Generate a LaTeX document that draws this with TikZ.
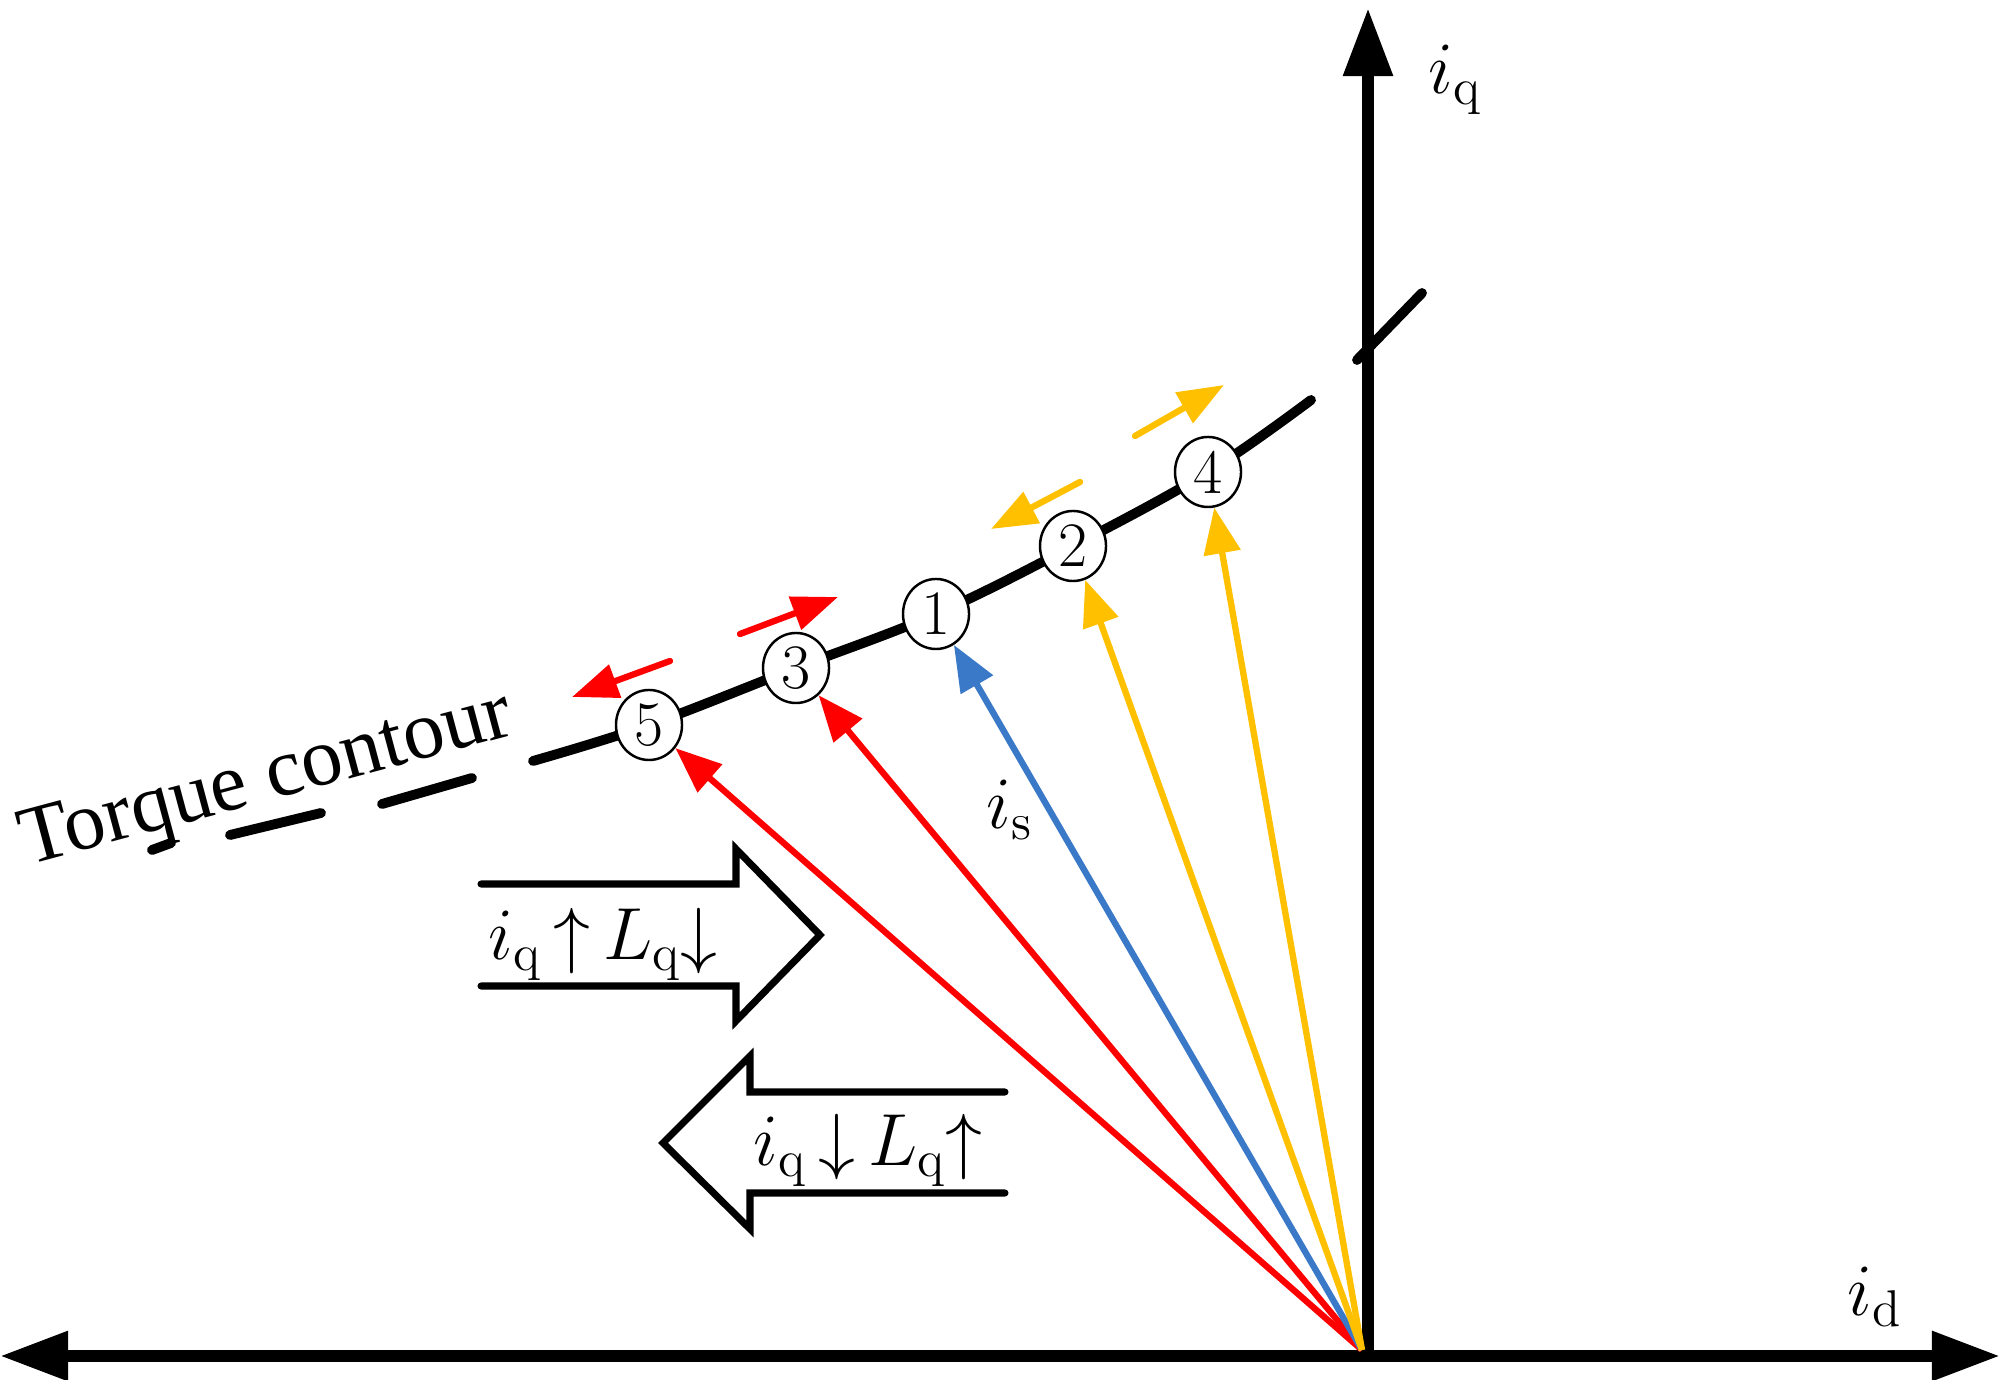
\RequirePackage{fix-cm}
\documentclass[tikz,border=0pt]{standalone}
\usepackage{fontspec}
\newfontfamily\contourfont{Liberation Serif}
\usetikzlibrary{arrows.meta,shapes.geometric}

\definecolor{vecred}{RGB}{255,0,0}
\definecolor{vecblue}{RGB}{58,120,200}
\definecolor{vecgold}{RGB}{255,192,0}

\tikzset{
  axis/.style={line width=3.4pt, -{Triangle[length=0.68cm,width=0.47cm]}},
  contour/.style={line width=2.8pt, line cap=round},
  opnode/.style={ellipse, draw, line width=0.7pt, fill=white, inner sep=0pt,
    minimum width=0.66cm, minimum height=0.70cm, font=\fontsize{18}{20}\selectfont},
  vec/.style={line width=1.8pt, -{Triangle[length=0.46cm,width=0.36cm]}},
  shiftarrow/.style={line width=1.8pt, line cap=round, -{Triangle[length=0.46cm,width=0.34cm]}},
  blockarrow/.style={line width=2pt, line cap=round, line join=miter},
  lbl/.style={inner sep=0pt, font=\fontsize{21}{25}\selectfont}
}

\begin{document}
\begin{tikzpicture}[x=0.01cm,y=-0.01cm]
\useasboundingbox (0,0) rectangle (2000,1380);

% Axes
\coordinate (O) at (1368,1356);
\draw[axis] (O) -- (2000,1356);
\draw[axis] (O) -- (0,1356);
\draw[axis] (O) -- (1368,8);
\node[lbl] (iq) at (1455,80) {$i_\mathrm{q}$};
\node[lbl] (id) at (1875,1297) {$i_\mathrm{d}$};

% Torque contour
\draw[contour] plot[smooth, tension=0.6] coordinates
  {(533,761) (649,725) (796,668) (936,614) (1073,546) (1208,472) (1311,400)};
\draw[contour] (1357,360) -- (1422,293);
\draw[contour] (152,850) -- (171,843);
\draw[contour] (230,835) -- (321,813);
\draw[contour] (382,804) -- (472,778);
\node[rotate=15, inner sep=0pt] (tc) at (267,782)
  {\contourfont\fontsize{23.5}{26}\selectfont Torque contour};

% Operating points
\node[opnode] (c5) at (649,725) {5};
\node[opnode] (c3) at (796,668) {3};
\node[opnode] (c1) at (936,614) {1};
\node[opnode] (c2) at (1073,546) {2};
\node[opnode] (c4) at (1208,472) {4};

% Current vectors
\coordinate (S) at (1362,1350);
\draw[vec, vecred] (S) -- (c5);
\draw[vec, vecred] (S) -- (c3);
\draw[vec, vecblue] (S) -- (c1);
\draw[vec, vecgold] (S) -- (c2);
\draw[vec, vecgold] (S) -- (c4);
\node[lbl] (is) at (1010,810) {$i_\mathrm{s}$};

% Moving directions
\coordinate (m5a) at (670,661); \coordinate (m5b) at (572,697);
\coordinate (m3a) at (740,634); \coordinate (m3b) at (838,597);
\coordinate (m2a) at (1080,482); \coordinate (m2b) at (991,529);
\coordinate (m4a) at (1135,436); \coordinate (m4b) at (1224,385);
\draw[shiftarrow, vecred] (m5a) -- (m5b);
\draw[shiftarrow, vecred] (m3a) -- (m3b);
\draw[shiftarrow, vecgold] (m2a) -- (m2b);
\draw[shiftarrow, vecgold] (m4a) -- (m4b);

% Block arrows
\draw[blockarrow] (481,884) -- (736,884) -- (736,849) -- (820,935)
  -- (736,1021) -- (736,986) -- (481,986);
\node[lbl] (up) at (603,944) {$i_\mathrm{q}\,{\uparrow}\,L_\mathrm{q}{\downarrow}$};
\draw[blockarrow] (1005,1092) -- (750,1092) -- (750,1056) -- (663,1143)
  -- (750,1229) -- (750,1193) -- (1005,1193);
\node[lbl] (down) at (868,1150) {$i_\mathrm{q}\,{\downarrow}\,L_\mathrm{q}{\uparrow}$};

\end{tikzpicture}
\end{document}
